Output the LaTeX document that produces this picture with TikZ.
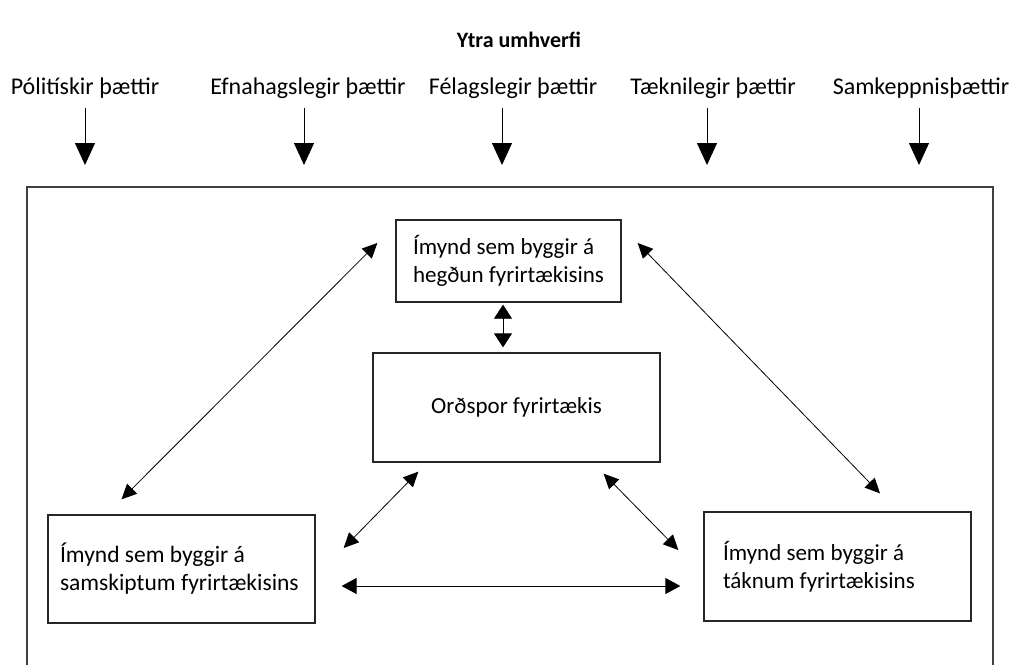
\documentclass[tikz,border=0pt]{standalone}
\usepackage{fontspec}
\setmainfont{Carlito}
\usetikzlibrary{arrows.meta}
\tikzset{
  label/.style={font=\fontsize{24}{28}\selectfont,inner sep=0pt},
  box/.style={draw=black!85,line width=1.3pt,inner ysep=0pt,font=\fontsize{23}{28}\selectfont},
  downarrow/.style={line width=0.9pt,-{Triangle[length=22pt,width=20pt]}},
  bigdbl/.style={line width=0.8pt,{Triangle[length=15pt,width=14pt]}-{Triangle[length=15pt,width=14pt]}},
  middbl/.style={line width=0.8pt,{Triangle[length=14pt,width=18pt]}-{Triangle[length=14pt,width=18pt]}},
  hordbl/.style={line width=1pt,{Triangle[length=15pt,width=16pt]}-{Triangle[length=15pt,width=16pt]}}
}
\begin{document}
\begin{tikzpicture}[x=1pt,y=-1pt]
    \useasboundingbox (0,0) rectangle (1019,665);
    \draw [black!75,line width=1.5pt] (27,665) -- (27,187) -- (993,187) -- (993,665);
    \node [label,font=\bfseries\fontsize{22}{26}\selectfont] (ytra) at (519,40) {Ytra umhverfi};
    \node [label] (pol) at (85,88) {Pólitískir þættir};
    \node [label] (efn) at (308,88) {Efnahagslegir þættir};
    \node [label] (fel) at (513,88) {Félagslegir þættir};
    \node [label] (tae) at (713,88) {Tæknilegir þættir};
    \node [label] (sam) at (921,88) {Samkeppnisþættir};
    \foreach \x/\n in {85/1,304/2,502/3,707/4,919/5} {
        \coordinate (s\n) at (\x,108);
        \coordinate (t\n) at (\x,165);
        \draw [downarrow] (s\n) -- (t\n);
    }
    \node [box,minimum width=225pt,minimum height=82pt,align=left] (hegdun) at (508.5,261) {Ímynd sem byggir á\\hegðun fyrirtækisins};
    \node [box,minimum width=287pt,minimum height=109pt,align=center] (ordspor) at (516.5,407.5) {Orðspor fyrirtækis};
    \node [box,text width=243pt,inner xsep=12pt,minimum height=108pt,align=flush left,font=\fontsize{23.5}{28}\selectfont] (samskipti) at (181.5,569) {Ímynd sem byggir á\\samskiptum fyrirtækisins};
    \node [box,text width=229pt,inner xsep=19pt,minimum height=109pt,align=flush left] (taknum) at (837.5,566.5) {Ímynd sem byggir á\\táknum fyrirtækisins};
    \draw [middbl,shorten <=2pt,shorten >=5pt] ([xshift=-5.5pt]hegdun.south) -- ([xshift=-5.5pt]hegdun.south |- ordspor.north);
    \draw [bigdbl] ([xshift=-18pt,yshift=18pt]hegdun.west) -- ([xshift=-60pt,yshift=15pt]samskipti.north);
    \draw [bigdbl] ([xshift=16pt,yshift=18pt]hegdun.east) -- ([xshift=42.5pt,yshift=18pt]taknum.north);
    \draw [bigdbl] ([xshift=46pt,yshift=-9pt]ordspor.south west) -- ([xshift=28pt,yshift=21pt]samskipti.east);
    \draw [bigdbl] ([xshift=-57pt,yshift=-11pt]ordspor.south east) -- ([xshift=-25pt,yshift=16.5pt]taknum.west);
    \draw [hordbl] ([xshift=26pt,yshift=-17pt]samskipti.east) -- ([xshift=-23pt,yshift=-19.5pt]taknum.west);
\end{tikzpicture}
\end{document}
